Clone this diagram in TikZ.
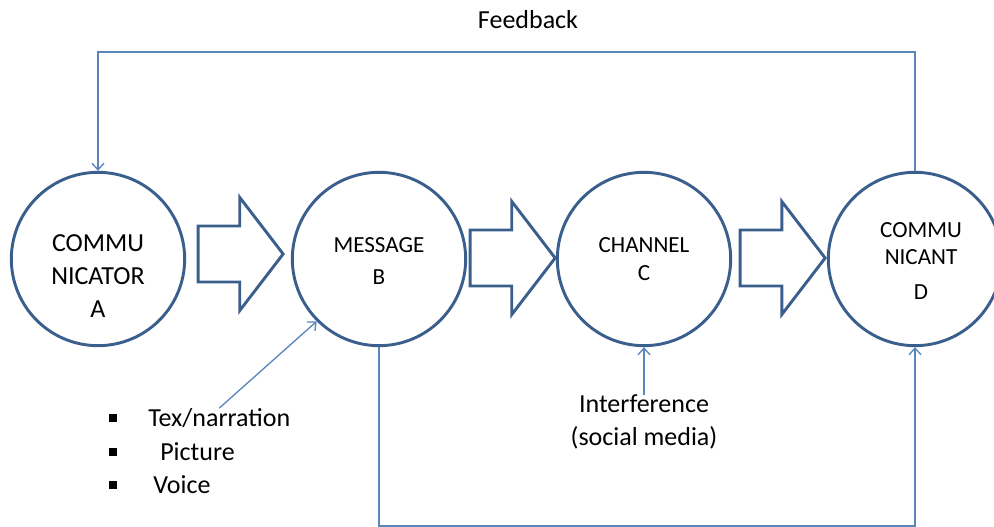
\documentclass[tikz,border=0pt]{standalone}
\usepackage{fontspec}
\setmainfont{Carlito}
\usetikzlibrary{shapes.arrows,arrows.meta}
\definecolor{outline}{HTML}{3A5F8C}
\definecolor{linkblue}{HTML}{5A86BE}

\begin{document}
\begin{tikzpicture}[x=0.75pt,y=-0.75pt,
  circ/.style={draw=outline, line width=2.2pt, circle, minimum size=130pt, inner sep=0pt},
  blockarrow/.style={draw=outline, line width=2.2pt, single arrow, single arrow tip angle=105,
    single arrow head extend=21.4pt, inner xsep=0pt, inner ysep=19.9pt, minimum height=63.75pt,
    anchor=tip},
  bigtxt/.style={font=\fontsize{19.5}{24.75}\selectfont, align=center, inner sep=0pt},
  smalltxt/.style={font=\fontsize{17.3}{24}\selectfont, align=center, inner sep=0pt},
  conn/.style={draw=linkblue, line width=1pt, -{Straight Barb[length=5pt,width=9pt]}},
  bullet/.style={fill=black, minimum size=6pt, inner sep=0pt}]
  \useasboundingbox (0,0) rectangle (994,527);
  % the four stages
  \node[circ] (A) at (98,259) {};
  \node[circ] (B) at (379,259) {};
  \node[circ] (C) at (644,259) {};
  \node[circ] (D) at (915,259) {};
  \node[bigtxt] (Atext) at (98,276) {COMMU\\NICATOR\\A};
  \node[smalltxt] (Btext) at (379,261) {MESSAGE\\B};
  \node[smalltxt] (Ctext) at (644,259) {CHANNEL\\[-3pt]C};
  \node[smalltxt] (Dtext) at (921,261) {COMMU\\[-4pt]NICANT\\[2.25pt]D};
  % block arrows between them
  \node[blockarrow] (AB) at (285,254) {};
  \node[blockarrow] (BC) at (557,258) {};
  \node[blockarrow] (CD) at (827,258) {};
  % feedback loop
  \coordinate (fbline) at (500,52);
  \node[bigtxt] (fb) at (528,20) {Feedback};
  \draw[conn] (D.north) -- (D.north |- fbline) -| (A.north);
  % message to communicant
  \coordinate (botline) at (500,526);
  \draw[conn] (B.south) -- (B.south |- botline) -| (D.south);
  % interference
  \node[bigtxt] (intf) at (644,422) {Interference\\(social media)};
  \draw[conn] (intf.north) -- (C.south);
  % message forms
  \node[bullet] (b1) at (113,418) {};
  \node[bullet] (b2) at (113,452) {};
  \node[bullet] (b3) at (113,485) {};
  \node[bigtxt, anchor=west] (txt) at (148,418) {Tex/narration};
  \node[bigtxt, anchor=west] (pic) at (160,452) {Picture};
  \node[bigtxt, anchor=west] (voice) at (153,485) {Voice};
  \draw[conn] (txt.north) -- (B.south west);
\end{tikzpicture}
\end{document}
